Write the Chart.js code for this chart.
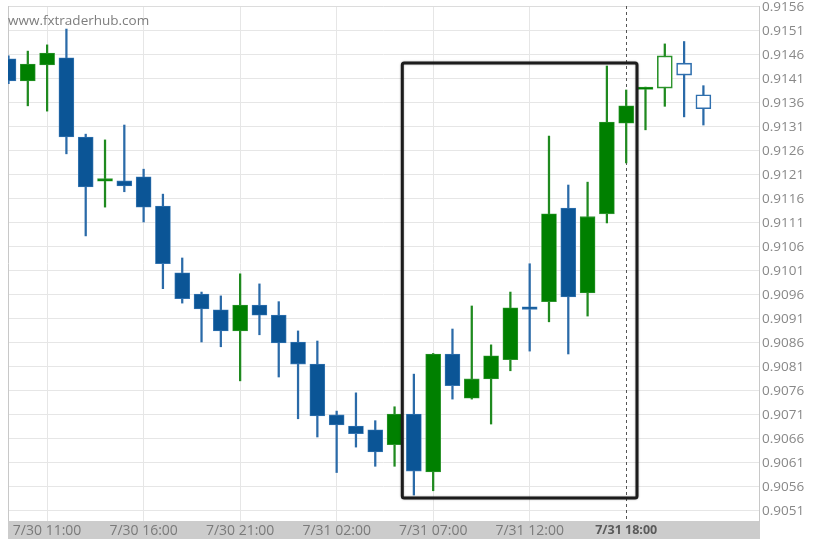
<!DOCTYPE html>
<html>
<head>
<meta charset="utf-8">
<title>EUR candles</title>
<script src="https://cdn.jsdelivr.net/npm/chart.js@4.4.1/dist/chart.umd.min.js"></script>
<style>
    html, body { margin: 0; padding: 0; background: #ffffff; }
</style>
</head>
<body>
<canvas id="chart" width="822" height="548"></canvas>
<script>

// Hourly candles, left to right (first one is cut by the left edge).
const opens  = [0.91452, 0.91406, 0.91439, 0.91454, 0.91289, 0.91197, 0.91198, 0.91206, 0.91145, 0.91006,
                0.90962, 0.90929, 0.90885, 0.90939, 0.90918, 0.90862, 0.90816, 0.90710, 0.90687, 0.90679,
                0.90648, 0.90712, 0.90591, 0.90837, 0.90745, 0.90785, 0.90825, 0.90932, 0.90946, 0.91141,
                0.90964, 0.91129, 0.91318, 0.91388, 0.91391, 0.91443, 0.91377];
const highs  = [0.91458, 0.91468, 0.91481, 0.91514, 0.91295, 0.91283, 0.91314, 0.91222, 0.91170, 0.91037,
                0.90966, 0.90958, 0.91004, 0.90983, 0.90946, 0.90885, 0.90864, 0.90718, 0.90756, 0.90698,
                0.90727, 0.90795, 0.90838, 0.90889, 0.90937, 0.90856, 0.90966, 0.91025, 0.91291, 0.91189,
                0.91195, 0.91437, 0.91387, 0.91393, 0.91483, 0.91488, 0.91396];
const lows   = [0.91400, 0.91354, 0.91343, 0.91254, 0.91083, 0.91143, 0.91175, 0.91112, 0.90973, 0.90943,
                0.90862, 0.90852, 0.90781, 0.90877, 0.90789, 0.90702, 0.90664, 0.90590, 0.90643, 0.90603,
                0.90603, 0.90543, 0.90552, 0.90743, 0.90743, 0.90691, 0.90802, 0.90843, 0.90904, 0.90837,
                0.90916, 0.91110, 0.91235, 0.91304, 0.91353, 0.91331, 0.91314];
const closes = [0.91406, 0.91441, 0.91464, 0.91289, 0.91185, 0.91199, 0.91187, 0.91143, 0.91025, 0.90952,
                0.90931, 0.90885, 0.90939, 0.90918, 0.90860, 0.90816, 0.90708, 0.90689, 0.90671, 0.90633,
                0.90712, 0.90593, 0.90837, 0.90771, 0.90785, 0.90833, 0.90933, 0.90930, 0.91129, 0.90956,
                0.91123, 0.91320, 0.91354, 0.91390, 0.91458, 0.91418, 0.91348];

// Last candles are drawn hollow (not closed yet / forecast part).
const hollowFrom = 34;

// X tick labels and the candle index they sit on.
const tickIndex  = [2, 7, 12, 17, 22, 27, 32];
const tickLabels = ['7/30 11:00', '7/30 16:00', '7/30 21:00', '7/31 02:00', '7/31 07:00', '7/31 12:00', '7/31 18:00'];
const nowIndex   = 32;

// Pattern box (candle index range, price range).
const zoneStart = 20.4;
const zoneEnd   = 32.56;
const zoneHigh  = 0.91443;
const zoneLow   = 0.90537;

const BLUE  = '#0b5596';
const GREEN = '#008000';

function isUp(i) {
    return closes[i] >= opens[i];
}

//////////////////////////////////////////      Plugin     ///////////////////////////////////////////

const decor = {
    id: 'decor',
    beforeDraw(chart) {
        const { ctx, chartArea: a } = chart;
        ctx.save();
        // Gray band under the x axis.
        ctx.fillStyle = '#cccccc';
        ctx.fillRect(a.left, a.bottom, a.right - a.left + 1, 18);
        ctx.restore();
    },
    beforeDatasetsDraw(chart) {
        const { ctx, chartArea: a, scales } = chart;
        ctx.save();

        // Frame lines top and left.
        ctx.lineWidth = 1;
        ctx.strokeStyle = '#dcdcdc';
        ctx.beginPath();
        ctx.moveTo(a.left, a.top + 0.5);
        ctx.lineTo(a.right, a.top + 0.5);
        ctx.stroke();
        ctx.strokeStyle = '#c8c8c8';
        ctx.beginPath();
        ctx.moveTo(a.left + 0.5, a.top);
        ctx.lineTo(a.left + 0.5, a.bottom);
        ctx.stroke();

        // Watermark.
        ctx.fillStyle = '#7d7d7d';
        ctx.font = '13.5px "Open Sans"';
        ctx.textBaseline = 'middle';
        ctx.textAlign = 'left';
        ctx.fillText('www.fxtraderhub.com', a.left, 21);

        // Current time marker.
        const xn = Math.round(scales.x.getPixelForValue(nowIndex)) + 0.5;
        ctx.strokeStyle = '#555555';
        ctx.setLineDash([3, 3]);
        ctx.beginPath();
        ctx.moveTo(xn, a.top);
        ctx.lineTo(xn, a.bottom);
        ctx.stroke();
        ctx.restore();
    },
    afterDatasetsDraw(chart) {
        const { ctx, scales } = chart;
        const x1 = scales.x.getPixelForValue(zoneStart);
        const x2 = scales.x.getPixelForValue(zoneEnd);
        const y1 = scales.y.getPixelForValue(zoneHigh);
        const y2 = scales.y.getPixelForValue(zoneLow);
        ctx.save();
        ctx.shadowColor = 'rgba(0,0,0,0.35)';
        ctx.shadowBlur = 2;
        ctx.lineWidth = 3;
        ctx.strokeStyle = '#1c1c1c';
        ctx.beginPath();
        ctx.roundRect(x1, y1, x2 - x1, y2 - y1, 2);
        ctx.stroke();
        ctx.restore();
    }
};

//////////////////////////////////////////      Chart     ///////////////////////////////////////////

const wickData = opens.map((o, i) => ({ x: i, y: [lows[i], highs[i]] }));
const bodyData = opens.map((o, i) => ({ x: i, y: [opens[i], closes[i]] }));

const data = {
    datasets: [{
        label: 'wick',
        data: wickData,
        grouped: false,
        order: 2,
        barThickness: 1.6,
        backgroundColor: ctx => isUp(ctx.dataIndex) ? '#1f8a1f' : '#2a6aa8'
    }, {
        label: 'body',
        data: bodyData,
        grouped: false,
        order: 1,
        barThickness: 15,
        minBarLength: 2.5,
        borderSkipped: false,
        backgroundColor: ctx => ctx.dataIndex >= hollowFrom ? '#ffffff' : (isUp(ctx.dataIndex) ? GREEN : BLUE),
        borderColor: ctx => {
            const i = ctx.dataIndex;
            if (i >= hollowFrom) {
                return isUp(i) ? '#2a922a' : '#2f6fae';
            }
            return isUp(i) ? '#3a9a3a' : '#3f7db8';
        },
        borderWidth: ctx => ctx.dataIndex >= hollowFrom ? 1.6 : 0.8
    }]
};

const options = {
    responsive: false,
    animation: false,
    layout: {
        padding: { left: 8, top: 6, right: 0, bottom: 9 }
    },
    plugins: {
        legend: { display: false },
        tooltip: { enabled: false }
    },
    scales: {
        x: {
            type: 'linear',
            min: -0.026,
            max: 38.88,
            offset: false,
            afterBuildTicks: scale => {
                scale.ticks = tickIndex.map(v => ({ value: v }));
            },
            afterFit: scale => {
                scale.height = 18;
                scale.paddingLeft = 0;
                scale.paddingRight = 0;
            },
            grid: {
                offset: false,
                drawTicks: false,
                color: ctx => (ctx.tick && ctx.tick.value === nowIndex) ? 'rgba(0,0,0,0)' : '#e6e6e6'
            },
            border: { display: false },
            ticks: {
                autoSkip: false,
                maxRotation: 0,
                padding: 2,
                color: ctx => (ctx.tick && ctx.tick.value === nowIndex) ? '#5a5a5a' : '#7a7a7a',
                font: ctx => {
                    const now = ctx.tick && ctx.tick.value === nowIndex;
                    return { family: '"Open Sans"', size: now ? 12.5 : 14, weight: now ? 'bold' : 'normal' };
                },
                callback: v => tickLabels[tickIndex.indexOf(v)]
            }
        },
        y: {
            type: 'linear',
            position: 'right',
            min: 0.90489,
            max: 0.91562,
            afterBuildTicks: scale => {
                const t = [];
                for (let k = 0; k <= 21; k++) {
                    t.push({ value: 0.9051 + k * 0.0005 });
                }
                scale.ticks = t;
            },
            afterFit: scale => {
                scale.width = 63;
                scale.paddingTop = 0;
                scale.paddingBottom = 0;
            },
            grid: {
                drawTicks: false,
                color: '#e6e6e6'
            },
            border: { display: true, color: '#c8c8c8' },
            ticks: {
                padding: 3,
                color: '#888888',
                font: { family: '"Open Sans"', size: 13.5 },
                callback: v => v.toFixed(4)
            }
        }
    }
};

const chart = new Chart(document.getElementById('chart'), { type: 'bar', data, options, plugins: [decor] });

</script>
</body>
</html>
